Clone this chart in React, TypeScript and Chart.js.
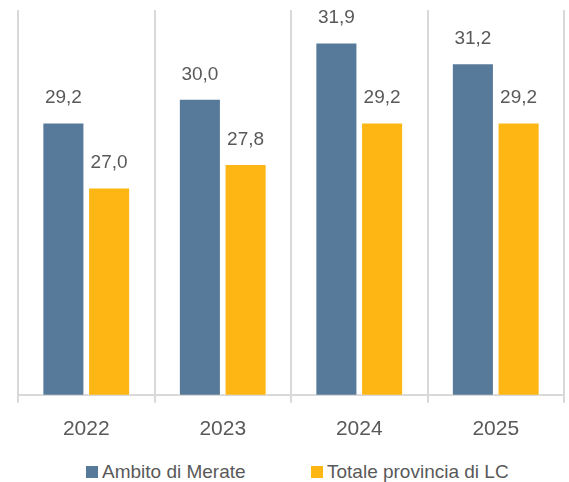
import React, { useEffect, useRef } from "react";
import { Chart, registerables } from "chart.js";

Chart.register(...registerables);

const categories = ["2022", "2023", "2024", "2025"];
const seriesNames = ["Ambito di Merate", "Totale provincia di LC"];
const ambitoValues = [29.2, 30.0, 31.9, 31.2];
const provinciaValues = [27.0, 27.8, 29.2, 29.2];
const colors = ["#587A9A", "#FDB614"];

const FONT = "'Liberation Sans', Arial, sans-serif";

const valueLabels = {
  id: "valueLabels",
  afterDatasetsDraw(chart: any) {
    const ctx = chart.ctx;
    ctx.save();
    ctx.font = `19px ${FONT}`;
    ctx.fillStyle = "#595959";
    ctx.textAlign = "center";
    ctx.textBaseline = "bottom";
    chart.data.datasets.forEach((ds: any, i: number) => {
      const meta = chart.getDatasetMeta(i);
      meta.data.forEach((el: any, j: number) => {
        const v = ds.data[j] as number;
        ctx.fillText(v.toFixed(1).replace(".", ","), el.x, el.y - 15);
      });
    });
    ctx.restore();
  },
};

export default function App() {
  const ref = useRef<HTMLCanvasElement>(null);
  useEffect(() => {
    if (!ref.current) return;
    const chart = new Chart(ref.current, {
      type: "bar",
      data: {
        labels: categories,
        datasets: [
          {
            label: seriesNames[0],
            data: ambitoValues,
            backgroundColor: colors[0],
            borderColor: "#ffffff",
            borderWidth: 1,
          },
          {
            label: seriesNames[1],
            data: provinciaValues,
            backgroundColor: colors[1],
            borderColor: "#ffffff",
            borderWidth: 1,
          },
        ],
      },
      options: {
        animation: false,
        responsive: false,
        maintainAspectRatio: false,
        layout: { padding: { left: 18, right: 5, top: 10, bottom: 0 } },
        datasets: { bar: { barPercentage: 0.92, categoryPercentage: 0.67 } },
        scales: {
          x: {
            offset: true,
            grid: {
              offset: true,
              color: "#D9D9D9",
              lineWidth: 2,
              tickLength: 8,
              drawTicks: true,
            },
            border: { color: "#D9D9D9", width: 2 },
            ticks: {
              color: "#595959",
              font: { family: FONT, size: 21 },
              padding: 14,
            },
          },
          y: {
            display: false,
            min: 20,
            max: 33,
          },
        },
        plugins: {
          legend: { display: false },
          tooltip: { enabled: false },
        },
      },
      plugins: [valueLabels],
    });
    return () => chart.destroy();
  }, []);

  const legendItem = (i: number, left: number) => (
    <div
      key={i}
      style={{
        position: "absolute",
        left,
        top: 461,
        display: "flex",
        alignItems: "center",
        fontFamily: FONT,
        fontSize: 19,
        color: "#595959",
        whiteSpace: "nowrap",
        lineHeight: "22px",
      }}
    >
      <span
        style={{
          display: "inline-block",
          width: 12,
          height: 12,
          background: colors[i],
          marginRight: 4,
        }}
      />
      <span>{seriesNames[i]}</span>
    </div>
  );

  return (
    <div style={{ position: "absolute", left: 0, top: 0, width: 569, height: 482 }}>
      <canvas ref={ref} width={569} height={456} style={{ display: "block" }} />
      {legendItem(0, 86)}
      {legendItem(1, 311)}
    </div>
  );
}
